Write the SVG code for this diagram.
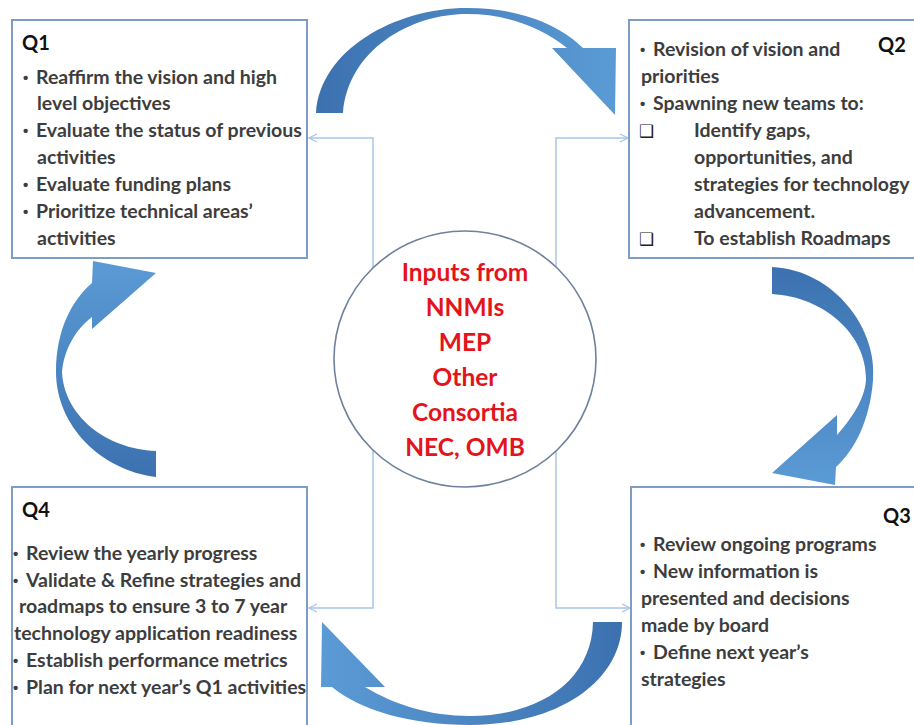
<svg xmlns="http://www.w3.org/2000/svg" width="914" height="725" viewBox="0 0 914 725">
<defs>
<style>
.box{fill:#ffffff;stroke:#7f9cc4;stroke-width:2}
.t{font-family:Lato,"Open Sans","Liberation Sans",sans-serif;font-weight:700;font-size:19.5px;fill:#3d3d3d}
.b{font-family:"Liberation Sans",sans-serif;font-weight:700;font-size:15px;fill:#3d3d3d}
.q{font-family:Lato,"Open Sans","Liberation Sans",sans-serif;font-weight:700;font-size:20px;fill:#111111}
.c{font-family:Lato,"Open Sans","Liberation Sans",sans-serif;font-weight:700;font-size:24.5px;fill:#e3141b;text-anchor:middle}
.cb{font-family:"DejaVu Sans",sans-serif;font-size:17px;fill:#222222}
.conn{fill:none;stroke:#a9c6e6;stroke-width:1.5}
.arrow{stroke:none}
</style>
<marker id="open" viewBox="0 0 10 10" refX="9" refY="5" markerWidth="10" markerHeight="10" markerUnits="userSpaceOnUse" orient="auto">
<path d="M1,1 L9,5 L1,9" fill="none" stroke="#a9c6e6" stroke-width="1.3"/>
</marker>
<linearGradient id="gTop" x1="316" y1="0" x2="616" y2="0" gradientUnits="userSpaceOnUse"><stop offset="0" stop-color="#3c71b0"/><stop offset="1" stop-color="#5b9bd5"/></linearGradient>
<linearGradient id="gRight" x1="0" y1="267" x2="0" y2="485" gradientUnits="userSpaceOnUse"><stop offset="0" stop-color="#3c71b0"/><stop offset="1" stop-color="#5b9bd5"/></linearGradient>
<linearGradient id="gBottom" x1="622" y1="0" x2="321" y2="0" gradientUnits="userSpaceOnUse"><stop offset="0" stop-color="#3c71b0"/><stop offset="1" stop-color="#5b9bd5"/></linearGradient>
<linearGradient id="gLeft" x1="0" y1="477" x2="0" y2="261" gradientUnits="userSpaceOnUse"><stop offset="0" stop-color="#3c71b0"/><stop offset="1" stop-color="#5b9bd5"/></linearGradient>
</defs>
<rect width="914" height="725" fill="#ffffff"/>

<g id="connectors">
<path class="conn" d="M373,370 V138 H309" marker-end="url(#open)"/>
<path class="conn" d="M373,370 V608 H309" marker-end="url(#open)"/>
<path class="conn" d="M556,370 V138 H628" marker-end="url(#open)"/>
<path class="conn" d="M556,370 V608 H630" marker-end="url(#open)"/>
<path class="arrow" fill="url(#gTop)" d="M316,113 C320,50 395,8 467,8 C520,8 560,25 583,48 L616,48 L615,115 L552,48 L567,48 C540,26 505,14 467,14 C410,14 348,50 343,113 Z"/>
<path class="arrow" fill="url(#gRight)" d="M772,267 C835,270 878,330 873,380 C870,420 855,450 836,467 L835,485 L772,473 L837,415 L837,435 C855,415 866,395 866,378 C866,335 825,297 772,294 Z"/>
<path class="arrow" fill="url(#gBottom)" d="M622,622 C622,680 560,725 470,725 C410,725 360,710 332,687 L321,687 L322,622 L385,687 L365,687 C395,705 430,716 470,716 C540,716 592,680 593,622 Z"/>
<path class="arrow" fill="url(#gLeft)" d="M156,477 C100,470 56,425 56,372 C56,330 72,300 92,283 L93,261 L156,273 L92,329 L92,317 C75,330 64,350 62,372 C64,415 105,449 156,451 Z"/>
</g>

<g id="q1">
<rect class="box" x="12" y="20" width="295" height="238"/>
<text class="q" x="22" y="50">Q1</text>
<text class="b" x="23" y="83">•</text>
<text class="t" x="36" y="84">Reaffirm the vision and high</text>
<text class="t" x="37" y="110">level objectives</text>
<text class="b" x="23" y="136">•</text>
<text class="t" x="36" y="137">Evaluate the status of previous</text>
<text class="t" x="37" y="164">activities</text>
<text class="b" x="23" y="190">•</text>
<text class="t" x="36" y="191">Evaluate funding plans</text>
<text class="b" x="23" y="217">•</text>
<text class="t" x="36" y="218">Prioritize technical areas’</text>
<text class="t" x="37" y="245">activities</text>
</g>

<g id="q2">
<rect class="box" x="629" y="20" width="300" height="238"/>
<text class="q" x="878" y="52">Q2</text>
<text class="b" x="640" y="55">•</text>
<text class="t" x="653" y="56">Revision of vision and</text>
<text class="t" x="641" y="83">priorities</text>
<text class="b" x="640" y="109">•</text>
<text class="t" x="653" y="110">Spawning new teams to:</text>
<text class="cb" x="639" y="137">❑</text>
<text class="t" x="694" y="137">Identify gaps,</text>
<text class="t" x="694" y="164">opportunities, and</text>
<text class="t" x="694" y="191">strategies for technology</text>
<text class="t" x="694" y="218">advancement.</text>
<text class="cb" x="639" y="245">❑</text>
<text class="t" x="694" y="245">To establish Roadmaps</text>
</g>

<g id="q4">
<rect class="box" x="12" y="487" width="295" height="260"/>
<text class="q" x="22" y="517">Q4</text>
<text class="b" x="13" y="559">•</text>
<text class="t" x="26" y="560">Review the yearly progress</text>
<text class="b" x="13" y="586">•</text>
<text class="t" x="26" y="587">Validate &amp; Refine strategies and</text>
<text class="t" x="19" y="613">roadmaps to ensure 3 to 7 year</text>
<text class="t" x="14" y="640">technology application readiness</text>
<text class="b" x="13" y="666">•</text>
<text class="t" x="26" y="667">Establish performance metrics</text>
<text class="b" x="13" y="693">•</text>
<text class="t" x="26" y="694">Plan for next year’s Q1 activities</text>
</g>

<g id="q3">
<rect class="box" x="631" y="487" width="300" height="260"/>
<text class="q" x="883" y="523">Q3</text>
<text class="b" x="640" y="550">•</text>
<text class="t" x="653" y="551">Review ongoing programs</text>
<text class="b" x="640" y="577">•</text>
<text class="t" x="653" y="578">New information is</text>
<text class="t" x="641" y="605">presented and decisions</text>
<text class="t" x="641" y="632">made by board</text>
<text class="b" x="640" y="658">•</text>
<text class="t" x="653" y="659">Define next year’s</text>
<text class="t" x="641" y="686">strategies</text>
</g>

<g id="inputs">
<ellipse cx="465" cy="359" rx="131" ry="128" fill="#ffffff" stroke="#6f819b" stroke-width="1.6"/>
<text class="c" x="465" y="281">Inputs from</text>
<text class="c" x="465" y="316">NNMIs</text>
<text class="c" x="465" y="351">MEP</text>
<text class="c" x="465" y="386">Other</text>
<text class="c" x="465" y="421">Consortia</text>
<text class="c" x="465" y="456">NEC, OMB</text>
</g>
</svg>
